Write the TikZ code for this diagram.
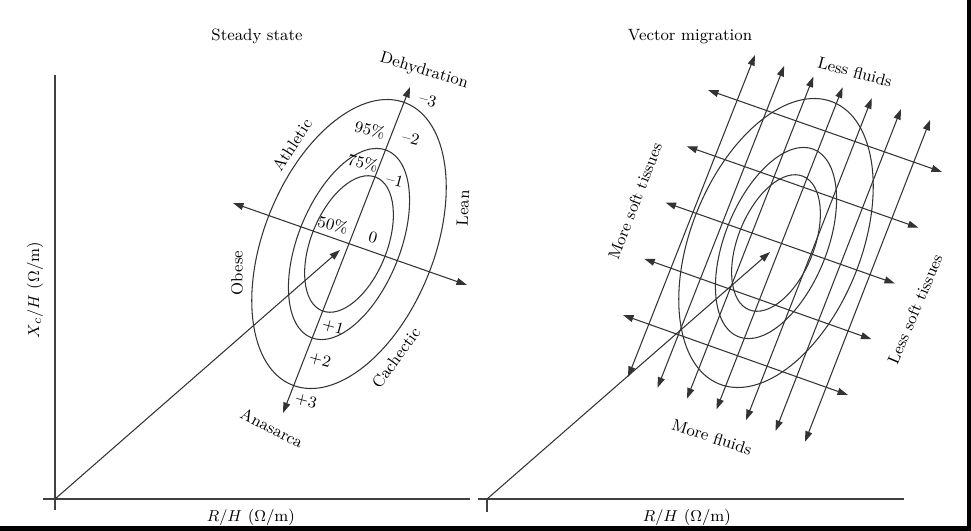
\documentclass[tikz,border=0pt]{standalone}
\usepackage{tikz}
\usetikzlibrary{arrows.meta,positioning,calc}

\begin{document}
\begin{tikzpicture}[
  x=0.02cm, y=-0.02cm,
  lbl/.style={font=\fontsize{9.3}{11}\selectfont, inner sep=0pt},
  num/.style={lbl, rotate=-15},
  axis/.style={draw, black!75, line width=0.6pt},
  ring/.style={draw, black!80, line width=0.6pt},
  arr/.style={draw, black!80, line width=0.6pt,
              -{Triangle[length=6pt,width=4pt]}},
  darr/.style={draw, black!80, line width=0.6pt,
               {Triangle[length=6pt,width=4pt]}-{Triangle[length=6pt,width=4pt]}}
]
\useasboundingbox (0,0) rectangle (971,531);
\fill[black] (967,0) rectangle (971,531);
\fill[black] (0,526) rectangle (971,531);

% axes
\coordinate (ytop) at (55,75);
\coordinate (ybot) at (55,510);
\coordinate (o1) at (55,499);
\coordinate (o2) at (487,499);
\draw[axis] (ytop) -- (ybot);
\draw[axis] (43,499) coordinate (xl1) -- (470,499) coordinate (xr1);
\draw[axis] (478,499) coordinate (xl2) -- (904,499) coordinate (xr2);
\draw[axis] (o2) -- ++(0,13) coordinate (tick2);

\node[lbl, rotate=90] (ylab) at (35,290) {$X_c/H$ ($\Omega$/m)};
\node[lbl] (xlab1) at (251,517) {$R/H$ ($\Omega$/m)};
\node[lbl] (xlab2) at (687,517) {$R/H$ ($\Omega$/m)};

% steady state
\node[lbl] (t1) at (257,36) {Steady state};
\coordinate (c1) at (349,244);
\draw[ring, rotate around={68:(c1)}] (c1) ellipse [x radius=152, y radius=85];
\draw[ring, rotate around={68:(c1)}] (c1) ellipse [x radius=101, y radius=51];
\draw[ring, rotate around={68:(c1)}] (c1) ellipse [x radius=72, y radius=38];

\coordinate (dehy) at (410,87);
\coordinate (anas) at (283,413);
\coordinate (obese) at (233,203);
\coordinate (lean) at (467,285);
\draw[darr] (anas) -- (dehy);
\draw[darr] (obese) -- (lean);
\draw[arr] (o1) -- (340,250) coordinate (v1);

\node[lbl, rotate=-17] (ldehy) at (424,71) {Dehydration};
\node[lbl, rotate=-27] (lanas) at (272,428) {Anasarca};
\node[lbl, rotate=57] (lath) at (292,145) {Athletic};
\node[lbl, rotate=87] (llean) at (463,208) {Lean};
\node[lbl, rotate=90] (lobese) at (237,273) {Obese};
\node[lbl, rotate=54] (lcach) at (396,358) {Cachectic};

\node[num] (m3) at (428,100) {--3};
\node[num] (m2) at (411,138) {--2};
\node[num] (m1) at (395,180) {--1};
\node[num] (z0) at (373,238) {0};
\node[num] (p1) at (333,327) {+1};
\node[num] (p2) at (320,360) {+2};
\node[num] (p3) at (306,401) {+3};
\node[num] (q95) at (370,130) {95\%};
\node[num] (q75) at (363,163) {75\%};
\node[num] (q50) at (333,225) {50\%};

% vector migration
\node[lbl] (t2) at (690,37) {Vector migration};
\coordinate (c2) at (776,243);
\draw[ring, rotate around={68:(c2)}] (c2) ellipse [x radius=152, y radius=85];
\draw[ring, rotate around={68:(c2)}] (c2) ellipse [x radius=101, y radius=51];
\draw[ring, rotate around={68:(c2)}] (c2) ellipse [x radius=72, y radius=38];

\foreach \i in {0,...,6} {
  \coordinate (lo\i) at ({628+29.5*\i},{377+10.8*\i});
  \coordinate (up\i) at ({755+29.2*\i},{55+10.8*\i});
  \draw[darr] (lo\i) -- (up\i);
}
\foreach \j in {0,...,4} {
  \coordinate (le\j) at ({708-21.25*\j},{90+56.25*\j});
  \coordinate (ri\j) at ({942-23.5*\j},{172+55.75*\j});
  \draw[darr] (le\j) -- (ri\j);
}
\draw[arr] (o2) -- (770,252) coordinate (v2);

\node[lbl, rotate=-15] (lless) at (855,72) {Less fluids};
\node[lbl, rotate=-18] (lmore) at (712,437) {More fluids};
\node[lbl, rotate=69] (lmst) at (635,201) {More soft tissues};
\node[lbl, rotate=67] (llst) at (915,309) {Less soft tissues};
\end{tikzpicture}
\end{document}
